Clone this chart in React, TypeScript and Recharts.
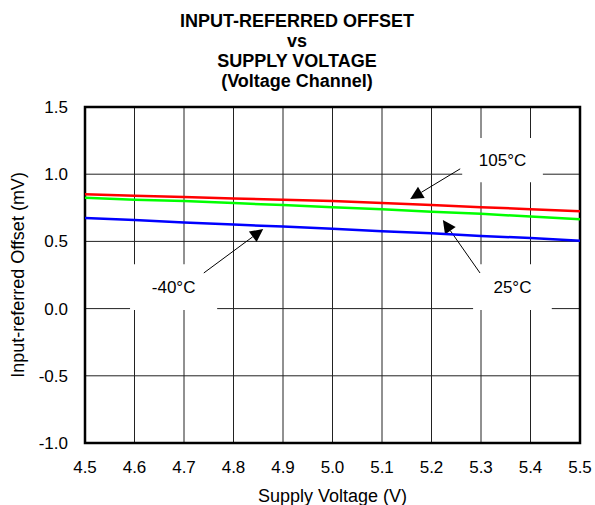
import React from "react";
import {
  LineChart,
  Line,
  XAxis,
  YAxis,
  CartesianGrid,
  ReferenceArea,
  ReferenceLine,
  Label,
} from "recharts";

/* ── Data ────────────────────────────────────────────── */
const supplyVoltage = [4.5, 4.6, 4.7, 4.8, 4.9, 5.0, 5.1, 5.2, 5.3, 5.4, 5.5];
const offset105C = [0.85, 0.84, 0.83, 0.82, 0.81, 0.8, 0.785, 0.77, 0.755, 0.74, 0.725];
const offset25C = [0.825, 0.81, 0.8, 0.785, 0.77, 0.755, 0.74, 0.72, 0.705, 0.685, 0.665];
const offsetM40C = [0.675, 0.66, 0.64, 0.625, 0.61, 0.595, 0.575, 0.56, 0.54, 0.525, 0.505];

const xTicks = [4.5, 4.6, 4.7, 4.8, 4.9, 5.0, 5.1, 5.2, 5.3, 5.4, 5.5];
const yTicks = [-1.0, -0.5, 0.0, 0.5, 1.0, 1.5];

const titleLines = [
  "INPUT-REFERRED OFFSET",
  "vs",
  "SUPPLY VOLTAGE",
  "(Voltage Channel)",
];

// callouts: label box + arrow (from -> tip), in data units
const callouts = [
  { text: "105°C", box: [5.262, 5.425, 0.94, 1.27], from: [5.258, 1.04], tip: [5.157, 0.815] },
  { text: "-40°C", box: [4.591, 4.767, -0.01, 0.33], from: [4.74, 0.265], tip: [4.86, 0.592] },
  { text: "25°C", box: [5.284, 5.443, -0.01, 0.33], from: [5.298, 0.265], tip: [5.223, 0.659] },
];

const rows = supplyVoltage.map((v, i) => ({
  v,
  t105: offset105C[i],
  t25: offset25C[i],
  tm40: offsetM40C[i],
}));

const FONT = "Arial, 'Liberation Sans', sans-serif";

function Arrow(props: any) {
  const { x1, y1, x2, y2 } = props;
  if ([x1, y1, x2, y2].some((n) => n == null || isNaN(n))) return null;
  const dx = x2 - x1;
  const dy = y2 - y1;
  const len = Math.sqrt(dx * dx + dy * dy) || 1;
  const ux = dx / len;
  const uy = dy / len;
  const headLen = 13;
  const headW = 6.5;
  const bx = x2 - ux * headLen;
  const by = y2 - uy * headLen;
  const pts = [
    `${x2},${y2}`,
    `${bx - uy * headW},${by + ux * headW}`,
    `${bx + uy * headW},${by - ux * headW}`,
  ].join(" ");
  return (
    <g>
      <line x1={x1} y1={y1} x2={bx} y2={by} stroke="#000" strokeWidth={1} />
      <polygon points={pts} fill="#000" />
    </g>
  );
}

export default function App() {
  return (
    <div style={{ position: "absolute", left: 0, top: 0, width: 595, height: 505, background: "#fff" }}>
      <LineChart
        width={595}
        height={505}
        data={rows}
        margin={{ top: 107, right: 15, bottom: 0, left: 0 }}
        style={{ fontFamily: FONT }}
      >
        <CartesianGrid stroke="#222" strokeWidth={1} horizontalValues={yTicks} verticalValues={xTicks} />
        <XAxis
          dataKey="v"
          type="number"
          domain={[4.5, 5.5]}
          ticks={xTicks}
          tickFormatter={(t: number) => t.toFixed(1)}
          axisLine={false}
          tickLine={false}
          tickSize={6}
          tickMargin={12}
          height={62}
          tick={{ fontSize: 17, fill: "#000", fontFamily: FONT }}
          interval={0}
        >
          <Label
            value="Supply Voltage (V)"
            position="insideBottom"
            offset={3}
            fontSize={18}
            fill="#000"
            fontFamily={FONT}
          />
        </XAxis>
        <YAxis
          type="number"
          domain={[-1, 1.5]}
          ticks={yTicks}
          tickFormatter={(t: number) => t.toFixed(1)}
          axisLine={false}
          tickLine={false}
          tickSize={6}
          tickMargin={11}
          width={85}
          tick={{ fontSize: 17, fill: "#000", fontFamily: FONT }}
          interval={0}
        >
          <Label
            value="Input-referred Offset (mV)"
            angle={-90}
            position="insideLeft"
            offset={18}
            textAnchor="middle"
            fontSize={18}
            fill="#000"
            fontFamily={FONT}
          />
        </YAxis>

        {callouts.map((c) => (
          <ReferenceArea
            key={c.text + "-box"}
            x1={c.box[0]}
            x2={c.box[1]}
            y1={c.box[2]}
            y2={c.box[3]}
            fill="#fff"
            fillOpacity={1}
            stroke="none"
          >
            <Label value={c.text} position="center" fontSize={17} fill="#000" fontFamily={FONT} />
          </ReferenceArea>
        ))}
        {callouts.map((c) => (
          <ReferenceLine
            key={c.text + "-arrow"}
            segment={[
              { x: c.from[0], y: c.from[1] },
              { x: c.tip[0], y: c.tip[1] },
            ]}
            shape={Arrow}
          />
        ))}

        <Line dataKey="t105" stroke="#ff0000" strokeWidth={2.5} dot={false} isAnimationActive={false} />
        <Line dataKey="t25" stroke="#00ff00" strokeWidth={2.5} dot={false} isAnimationActive={false} />
        <Line dataKey="tm40" stroke="#0000ff" strokeWidth={2.5} dot={false} isAnimationActive={false} />

        <ReferenceArea x1={4.5} x2={5.5} y1={-1} y2={1.5} fill="none" stroke="#000" strokeWidth={2.5} />
      </LineChart>

      <svg
        width={595}
        height={100}
        style={{ position: "absolute", left: 0, top: 0, pointerEvents: "none" }}
      >
        {titleLines.map((t, i) => (
          <text
            key={t}
            x={297}
            y={27 + i * 20}
            textAnchor="middle"
            fontFamily={FONT}
            fontWeight="bold"
            fontSize={18}
            fill="#000"
          >
            {t}
          </text>
        ))}
      </svg>
    </div>
  );
}
